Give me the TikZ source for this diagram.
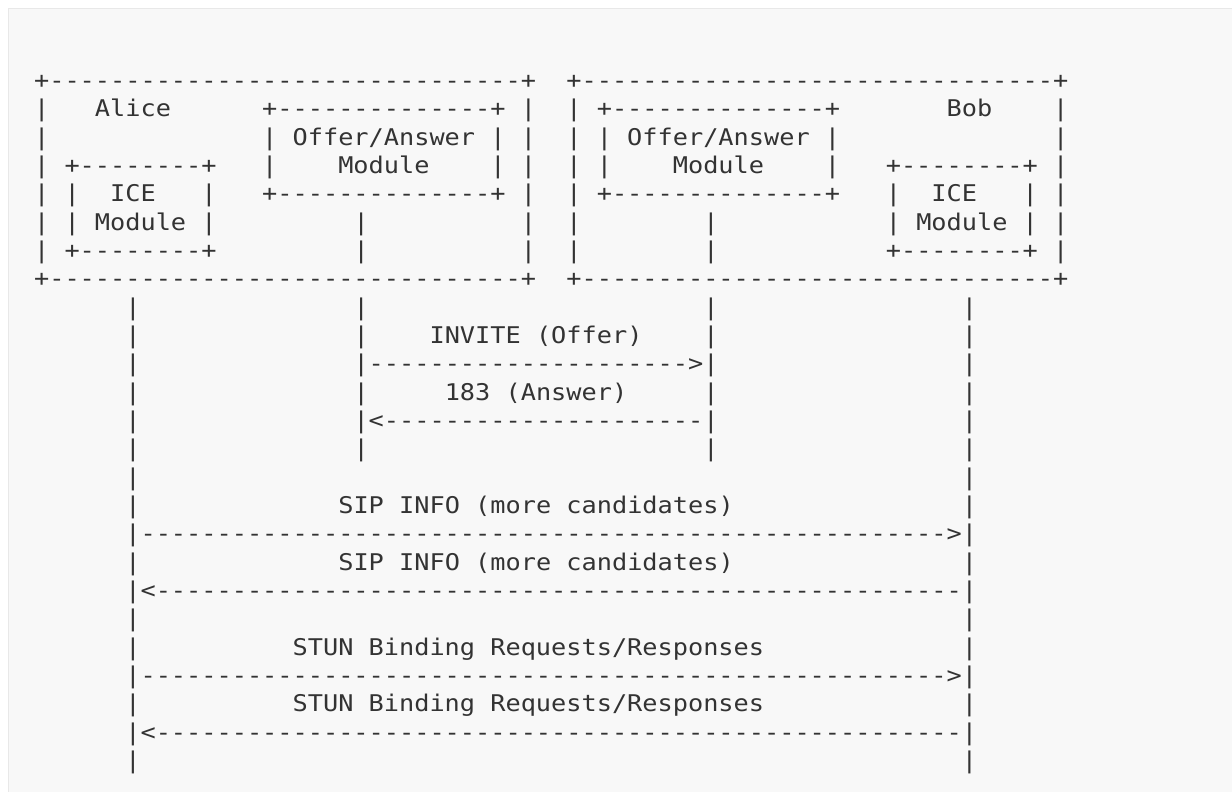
\documentclass[tikz,border=0pt]{standalone}
\usepackage{fontspec}
\setmonofont[FakeStretch=1.0984]{DejaVu Sans Mono}
\ExplSyntaxOn
\cs_new:Npn \RepIt #1#2 { \prg_replicate:nn {#1} {#2} }
\ExplSyntaxOff
\newcommand\Spc[1]{\RepIt{#1}{~}}
\newcommand\Dsh[1]{\RepIt{#1}{-}}
\definecolor{ink}{HTML}{333333}
\definecolor{bgfill}{HTML}{F8F8F8}
\definecolor{bgline}{HTML}{E8E8E8}
\tikzset{
  rowtext/.style={anchor=base west, inner sep=0pt, outer sep=0pt,
    font=\ttfamily\fontsize{23}{28}\selectfont, text=ink}
}
\begin{document}
\begin{tikzpicture}[x=1pt,y=-1pt]
\useasboundingbox (0,0) rectangle (1232,792);
\fill[white] (0,0) rectangle (1232,792);
\fill[bgfill] (8,8) rectangle (1232,792);
\draw[bgline,line width=1.2pt] (8.6,792) -- (8.6,8.6) -- (1232,8.6);
% box section
\node[rowtext] (r1) at (34.1,88.3) {+\Dsh{31}+\Spc{2}+\Dsh{31}+};
\node[rowtext] (r2) at (34.1,116.6) {|\Spc{3}Alice\Spc{6}+\Dsh{14}+\Spc{1}|\Spc{2}|\Spc{1}+\Dsh{14}+\Spc{7}Bob\Spc{4}|};
\node[rowtext] (r3) at (34.1,145.0) {|\Spc{14}|\Spc{1}Offer/Answer\Spc{1}|\Spc{1}|\Spc{2}|\Spc{1}|\Spc{1}Offer/Answer\Spc{1}|\Spc{14}|};
\node[rowtext] (r4) at (34.1,173.3) {|\Spc{1}+\Dsh{8}+\Spc{3}|\Spc{4}Module\Spc{4}|\Spc{1}|\Spc{2}|\Spc{1}|\Spc{4}Module\Spc{4}|\Spc{3}+\Dsh{8}+\Spc{1}|};
\node[rowtext] (r5) at (34.1,201.6) {|\Spc{1}|\Spc{2}ICE\Spc{3}|\Spc{3}+\Dsh{14}+\Spc{1}|\Spc{2}|\Spc{1}+\Dsh{14}+\Spc{3}|\Spc{2}ICE\Spc{3}|\Spc{1}|};
\node[rowtext] (r6) at (34.1,230.0) {|\Spc{1}|\Spc{1}Module\Spc{1}|\Spc{9}|\Spc{10}|\Spc{2}|\Spc{8}|\Spc{11}|\Spc{1}Module\Spc{1}|\Spc{1}|};
\node[rowtext] (r7) at (34.1,258.3) {|\Spc{1}+\Dsh{8}+\Spc{9}|\Spc{10}|\Spc{2}|\Spc{8}|\Spc{11}+\Dsh{8}+\Spc{1}|};
\node[rowtext] (r8) at (34.1,286.6) {+\Dsh{31}+\Spc{2}+\Dsh{31}+};
% offer / answer exchange
\node[rowtext] (r9)  at (34.1,315.0) {\Spc{6}|\Spc{14}|\Spc{22}|\Spc{16}|};
\node[rowtext] (r10) at (34.1,343.3) {\Spc{6}|\Spc{14}|\Spc{4}INVITE~(Offer)\Spc{4}|\Spc{16}|};
\node[rowtext] (r11) at (34.1,371.6) {\Spc{6}|\Spc{14}|\Dsh{21}>|\Spc{16}|};
\node[rowtext] (r12) at (34.1,400.0) {\Spc{6}|\Spc{14}|\Spc{5}183~(Answer)\Spc{5}|\Spc{16}|};
\node[rowtext] (r13) at (34.1,428.3) {\Spc{6}|\Spc{14}|<\Dsh{21}|\Spc{16}|};
\node[rowtext] (r14) at (34.1,456.6) {\Spc{6}|\Spc{14}|\Spc{22}|\Spc{16}|};
\node[rowtext] (r15) at (34.1,485.0) {\Spc{6}|\Spc{54}|};
% SIP INFO
\node[rowtext] (r16) at (34.1,513.3) {\Spc{6}|\Spc{13}SIP~INFO~(more~candidates)\Spc{15}|};
\node[rowtext] (r17) at (34.1,541.6) {\Spc{6}|\Dsh{53}>|};
\node[rowtext] (r18) at (34.1,570.0) {\Spc{6}|\Spc{13}SIP~INFO~(more~candidates)\Spc{15}|};
\node[rowtext] (r19) at (34.1,598.3) {\Spc{6}|<\Dsh{53}|};
\node[rowtext] (r20) at (34.1,626.6) {\Spc{6}|\Spc{54}|};
% STUN
\node[rowtext] (r21) at (34.1,655.0) {\Spc{6}|\Spc{10}STUN~Binding~Requests/Responses\Spc{13}|};
\node[rowtext] (r22) at (34.1,683.3) {\Spc{6}|\Dsh{53}>|};
\node[rowtext] (r23) at (34.1,711.6) {\Spc{6}|\Spc{10}STUN~Binding~Requests/Responses\Spc{13}|};
\node[rowtext] (r24) at (34.1,740.0) {\Spc{6}|<\Dsh{53}|};
\node[rowtext] (r25) at (34.1,768.3) {\Spc{6}|\Spc{54}|};
\end{tikzpicture}
\end{document}
